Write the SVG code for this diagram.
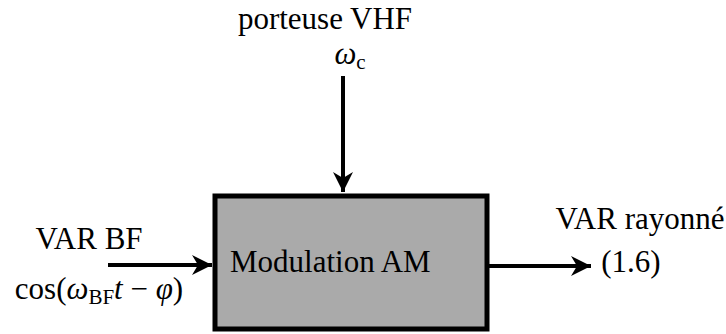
<svg xmlns="http://www.w3.org/2000/svg" width="726" height="334" viewBox="0 0 726 334">
<style>
text{font-family:'Liberation Serif','Times New Roman','DejaVu Serif',serif;font-size:31px;fill:#000}
.s{font-size:21px}
.i{font-style:italic}
.c{stroke:#000;stroke-width:4;fill:none}
</style>
<defs>
<marker id="ah" viewBox="0 0 10 10" refX="10" refY="5" markerWidth="5" markerHeight="5" markerUnits="strokeWidth" orient="auto">
<path d="M0,0 L10,5 L0,10 L3,5 Z" fill="#000"/>
</marker>
</defs>
<rect width="726" height="334" fill="#fff"/>
<g id="connectors">
<line class="c" x1="343" y1="76" x2="343" y2="192" marker-end="url(#ah)"/>
<line class="c" x1="108" y1="265" x2="212" y2="265" marker-end="url(#ah)"/>
<line class="c" x1="489" y1="266" x2="591" y2="266" marker-end="url(#ah)"/>
</g>
<g id="modulation">
<rect x="215" y="196" width="272" height="133" fill="#aaaaaa" stroke="#000" stroke-width="5"/>
<text x="230" y="272">Modulation AM</text>
</g>
<g id="porteuse">
<text x="325" y="29" text-anchor="middle">porteuse VHF</text>
<text x="350" y="64" text-anchor="middle"><tspan class="i">ω</tspan><tspan class="s" dy="5">c</tspan></text>
</g>
<g id="var-bf">
<text x="89" y="249" text-anchor="middle">VAR BF</text>
<text x="99" y="299" text-anchor="middle">cos(<tspan class="i">ω</tspan><tspan class="s" dy="5">BF</tspan><tspan class="i" dy="-5">t</tspan> − <tspan class="i">φ</tspan>)</text>
</g>
<g id="var-rayonne">
<text x="640" y="229" text-anchor="middle">VAR rayonné</text>
<text x="631" y="272" text-anchor="middle">(1.6)</text>
</g>
</svg>
